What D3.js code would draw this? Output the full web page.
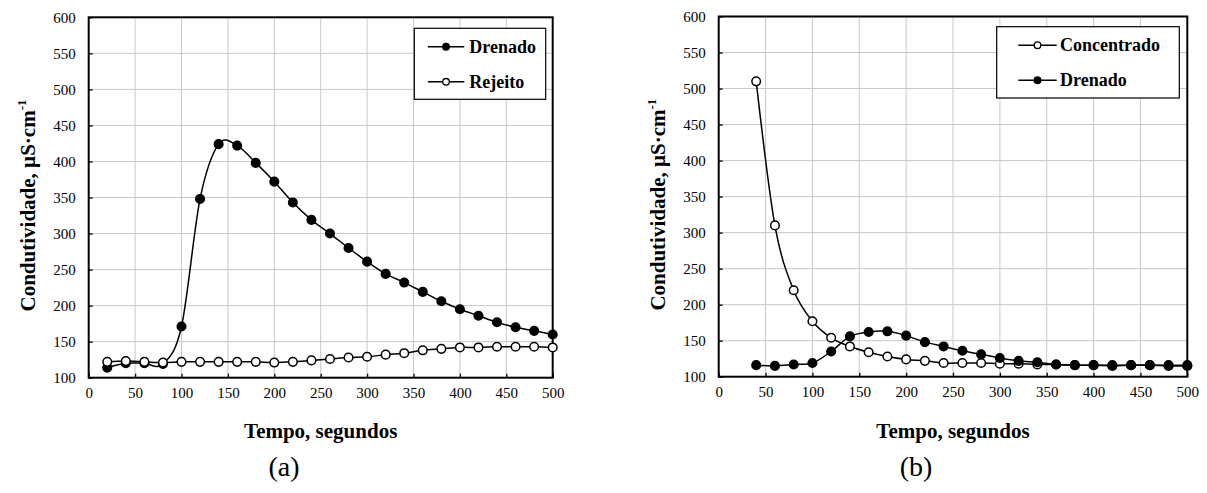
<!DOCTYPE html>
<html>
<head>
<meta charset="utf-8">
<script src="https://cdn.jsdelivr.net/npm/d3@7"></script>
<style>
  html, body { margin: 0; padding: 0; background: #fff; }
  svg { display: block; }
  text { font-family: "Liberation Serif", "Times New Roman", serif; }
</style>
</head>
<body>
<svg id="chart" width="1207" height="493"></svg>
<script>
// ---- Data ----
const timeA = [20,40,60,80,100,120,140,160,180,200,220,240,260,280,300,320,340,360,380,400,420,440,460,480,500];
const drenadoA = [114,120,120,119,171,348,424,422,398,372,343,319,300,280,261,244,232,219,206,195,186,177,170,165,160];
const rejeitoA = [122,123,122,121,122,122,122,122,122,121,122,124,126,128,129,132,134,138,140,142,142,143,143,143,142];

const timeB = [40,60,80,100,120,140,160,180,200,220,240,260,280,300,320,340,360,380,400,420,440,460,480,500];
const concentradoB = [510,310,220,177,154,142,134,128,124,122,119,119,119,118,118,117,117,116,116,116,116,116,116,116];
const drenadoB = [116,115,117,119,135,156,162,163,157,148,142,136,131,126,122,120,117,116,116,115,116,116,115,115];

const xTicks = [0,50,100,150,200,250,300,350,400,450,500];
const yTicks = [100,150,200,250,300,350,400,450,500,550,600];
const xTitle = "Tempo, segundos";
const yTitle = "Condutividade, µS·cm";
const yTitleSup = "-1";
const panelLabels = ["(a)", "(b)"];

const svg = d3.select("#chart");
const SERIF = "Liberation Serif, Times New Roman, serif";

function drawPanel(p) {
  const g = svg.append("g");
  const x = d3.scaleLinear().domain([0, 500]).range([p.left, p.right]);
  const y = d3.scaleLinear().domain([100, 600]).range([p.bottom, p.top]);

  // gridlines
  g.append("g").selectAll("line").data(xTicks.slice(1, -1)).join("line")
    .attr("x1", d => x(d)).attr("x2", d => x(d))
    .attr("y1", p.top).attr("y2", p.bottom)
    .attr("stroke", "#c8c8c8").attr("stroke-width", 1);
  g.append("g").selectAll("line").data(yTicks.slice(1, -1)).join("line")
    .attr("y1", d => y(d)).attr("y2", d => y(d))
    .attr("x1", p.left).attr("x2", p.right)
    .attr("stroke", "#c8c8c8").attr("stroke-width", 1);

  // axes with inside ticks
  const xAxis = d3.axisBottom(x).tickValues(xTicks).tickSize(-4).tickPadding(10).tickFormat(d3.format("d"));
  const yAxis = d3.axisLeft(y).tickValues(yTicks).tickSize(-4).tickPadding(13).tickFormat(d3.format("d"));
  const gx = g.append("g").attr("transform", `translate(0,${p.bottom})`).call(xAxis);
  const gy = g.append("g").attr("transform", `translate(${p.left},0)`).call(yAxis);
  [gx, gy].forEach(a => {
    a.attr("font-family", SERIF).attr("font-size", 15);
    a.select(".domain").remove();
    a.selectAll(".tick line").attr("stroke", "#000").attr("stroke-width", 1.3);
    a.selectAll(".tick text").attr("fill", "#000");
  });

  // frame
  g.append("rect")
    .attr("x", p.left).attr("y", p.top)
    .attr("width", p.right - p.left).attr("height", p.bottom - p.top)
    .attr("fill", "none").attr("stroke", "#000").attr("stroke-width", 2);

  // series
  const line = d3.line().curve(d3.curveCardinal.tension(0)).x(d => x(d[0])).y(d => y(d[1]));
  p.series.forEach(s => {
    const pts = s.t.map((t, i) => [t, s.v[i]]);
    g.append("path").datum(pts).attr("d", line)
      .attr("fill", "none").attr("stroke", "#000").attr("stroke-width", 1.5);
    g.append("g").selectAll("circle").data(pts).join("circle")
      .attr("cx", d => x(d[0])).attr("cy", d => y(d[1]))
      .attr("r", 4.3)
      .attr("fill", s.filled ? "#000" : "#fff")
      .attr("stroke", "#000").attr("stroke-width", 1.5);
  });

  // legend
  const L = p.legend;
  g.append("rect").attr("x", L.x).attr("y", L.y).attr("width", L.w).attr("height", L.h)
    .attr("fill", "#fff").attr("stroke", "#000").attr("stroke-width", 1.2);
  p.series.forEach((s, i) => {
    const yy = L.y + 18.5 + i * 35;
    g.append("line").attr("x1", L.x + L.lx0).attr("x2", L.x + L.lx1).attr("y1", yy).attr("y2", yy)
      .attr("stroke", "#000").attr("stroke-width", 1.5);
    g.append("circle").attr("cx", L.x + (L.lx0 + L.lx1) / 2).attr("cy", yy).attr("r", 3.3)
      .attr("fill", s.filled ? "#000" : "#fff").attr("stroke", "#000").attr("stroke-width", 1.3);
    g.append("text").attr("x", L.x + L.tx).attr("y", yy + 6)
      .attr("font-family", SERIF).attr("font-size", 18).attr("font-weight", "bold")
      .text(s.name);
  });

  // axis titles
  const cx = (p.left + p.right) / 2;
  g.append("text").attr("x", cx).attr("y", 438).attr("text-anchor", "middle")
    .attr("font-family", SERIF).attr("font-size", 21).attr("font-weight", "bold").text(xTitle);
  const yt = g.append("text")
    .attr("transform", `translate(${p.left - 53.5},${(p.top + p.bottom) / 2 + 8}) rotate(-90)`)
    .attr("text-anchor", "middle")
    .attr("font-family", SERIF).attr("font-size", 21).attr("font-weight", "bold");
  yt.append("tspan").text(yTitle);
  yt.append("tspan").attr("dy", -9).attr("font-size", 13).text(yTitleSup);

  g.append("text").attr("x", p.labelX).attr("y", 476).attr("text-anchor", "middle")
    .attr("font-family", SERIF).attr("font-size", 28).text(p.label);
}

drawPanel({
  left: 88.7, right: 552.7, top: 17.3, bottom: 377.7,
  series: [
    { name: "Drenado", t: timeA, v: drenadoA, filled: true },
    { name: "Rejeito", t: timeA, v: rejeitoA, filled: false }
  ],
  legend: { x: 414.3, y: 28.3, w: 131.4, h: 71, lx0: 13.5, lx1: 50, tx: 55 },
  label: panelLabels[0], labelX: 284
});

drawPanel({
  left: 718.7, right: 1187.3, top: 16.5, bottom: 376.7,
  series: [
    { name: "Concentrado", t: timeB, v: concentradoB, filled: false },
    { name: "Drenado", t: timeB, v: drenadoB, filled: true }
  ],
  legend: { x: 996.7, y: 26.7, w: 182.6, h: 71.3, lx0: 21.6, lx1: 60, tx: 63.3 },
  label: panelLabels[1], labelX: 916
});
</script>
</body>
</html>
